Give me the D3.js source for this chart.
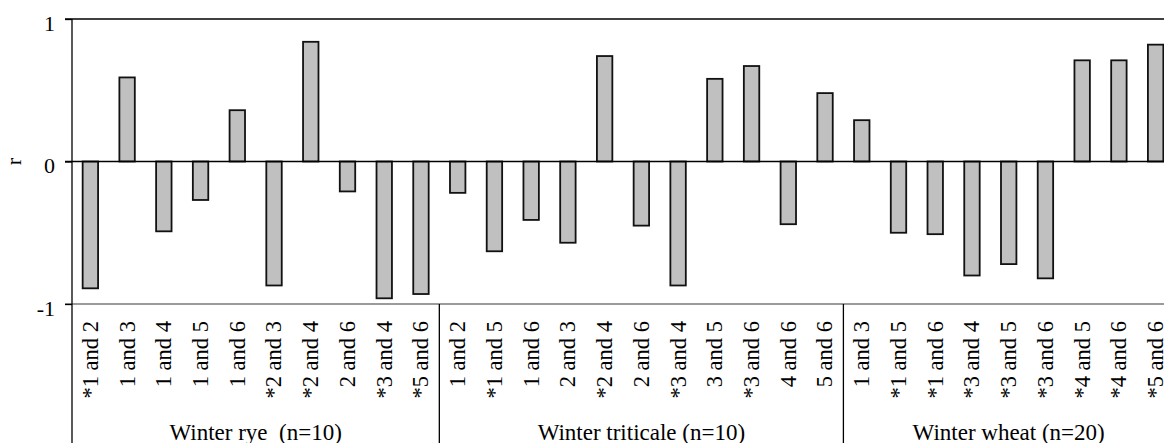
<!DOCTYPE html>
<html>
<head>
<meta charset="utf-8">
<script src="https://cdn.jsdelivr.net/npm/d3@7"></script>
<style>
  html, body { margin: 0; padding: 0; background: #fff; }
  svg { display: block; }
  text { font-family: "Liberation Serif", "Times New Roman", serif; fill: #000; }
</style>
</head>
<body>
<svg id="chart" width="1164" height="443"></svg>
<script>
// Correlation coefficients (r) between sample pairs, by crop
const groupNames = ["Winter rye  (n=10)", "Winter triticale (n=10)", "Winter wheat (n=20)"];
const groupSizes = [10, 11, 9];

const categories = [
  "*1 and 2", "1 and 3", "1 and 4", "1 and 5", "1 and 6", "*2 and 3", "*2 and 4", "2 and 6", "*3 and 4", "*5 and 6",
  "1 and 2", "*1 and 5", "1 and 6", "2 and 3", "*2 and 4", "2 and 6", "*3 and 4", "3 and 5", "*3 and 6", "4 and 6", "5 and 6",
  "1 and 3", "*1 and 5", "*1 and 6", "*3 and 4", "*3 and 5", "*3 and 6", "*4 and 5", "*4 and 6", "*5 and 6"
];

const values = [
  -0.89, 0.59, -0.49, -0.27, 0.36, -0.87, 0.84, -0.21, -0.96, -0.93,
  -0.22, -0.63, -0.41, -0.57, 0.74, -0.45, -0.87, 0.58, 0.67, -0.44, 0.48,
  0.29, -0.50, -0.51, -0.80, -0.72, -0.82, 0.71, 0.71, 0.82
];

const yTicks = [-1, 0, 1];

const svg = d3.select("#chart");
const plotLeft = 72, plotRight = 1174, plotTop = 19, plotBottom = 304, chartBottom = 443;

const idx = d3.range(categories.length);
const x = d3.scaleBand().domain(idx).range([plotLeft, plotRight]).paddingInner(0.58).paddingOuter(0.29);
const y = d3.scaleLinear().domain([-1, 1]).range([plotBottom, plotTop]);
const groupEdge = i => x(i) - x.step() * x.paddingOuter();

// Bars
svg.append("g").selectAll("rect")
  .data(idx)
  .join("rect")
  .attr("x", i => x(i))
  .attr("width", x.bandwidth())
  .attr("y", i => y(Math.max(0, values[i])))
  .attr("height", i => Math.abs(y(values[i]) - y(0)))
  .attr("fill", "#c0c0c0")
  .attr("stroke", "#111")
  .attr("stroke-width", 1.8);

// Top frame line and zero line
svg.append("line").attr("x1", plotLeft - 7).attr("x2", 1164).attr("y1", y(1)).attr("y2", y(1))
  .attr("stroke", "#000").attr("stroke-width", 1.3);
svg.append("line").attr("x1", plotLeft - 7).attr("x2", 1164).attr("y1", y(0)).attr("y2", y(0))
  .attr("stroke", "#000").attr("stroke-width", 1.5);

// Category baseline at r = -1
svg.append("line").attr("x1", plotLeft - 7).attr("x2", 1164).attr("y1", y(-1)).attr("y2", y(-1))
  .attr("stroke", "#7a7a7a").attr("stroke-width", 1.6);

// Y axis
const yAxis = d3.axisLeft(y).tickValues(yTicks).tickSize(7).tickPadding(10).tickFormat(d => String(d));
const gy = svg.append("g").attr("transform", `translate(${plotLeft},0)`).call(yAxis);
gy.attr("font-family", null);
gy.select(".domain").remove();
gy.selectAll(".tick line").attr("stroke", "#000").attr("stroke-width", 1.3);
gy.selectAll(".tick text").attr("font-size", 22).attr("dy", "0.5em");

svg.append("line").attr("x1", plotLeft).attr("x2", plotLeft).attr("y1", plotTop).attr("y2", chartBottom)
  .attr("stroke", "#000").attr("stroke-width", 1.3);

svg.append("text")
  .attr("transform", `translate(21,${y(0)}) rotate(-90)`)
  .attr("text-anchor", "middle")
  .attr("font-size", 22)
  .text("r");

// Category labels (rotated)
svg.append("g").selectAll("text")
  .data(idx)
  .join("text")
  .attr("transform", i => `translate(${x(i) + x.bandwidth() / 2},${plotBottom + 17}) rotate(-90)`)
  .attr("text-anchor", "end")
  .attr("dy", "0.33em")
  .attr("font-size", 22.5)
  .text(i => categories[i]);

// Group separators and group labels
let start = 0;
const groups = groupSizes.map((n, g) => {
  const r = { name: groupNames[g], start, end: start + n };
  start += n;
  return r;
});

const sepIdx = groups.slice(1).map(g => g.start);
svg.append("g").selectAll("line")
  .data(sepIdx)
  .join("line")
  .attr("x1", i => groupEdge(i)).attr("x2", i => groupEdge(i))
  .attr("y1", plotBottom).attr("y2", chartBottom)
  .attr("stroke", "#000").attr("stroke-width", 1.3);

svg.append("g").selectAll("text")
  .data(groups)
  .join("text")
  .attr("x", g => groupEdge(g.start) + x.step() * (g.end - g.start) / 2)
  .attr("y", 440)
  .attr("text-anchor", "middle")
  .attr("font-size", 23)
  .style("white-space", "pre")
  .text(g => g.name);
</script>
</body>
</html>
